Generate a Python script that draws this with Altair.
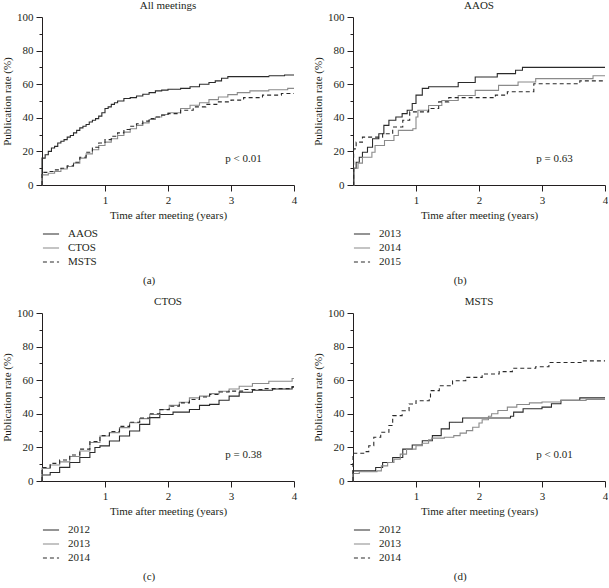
import altair as alt
import pandas as pd

# ---------------- data ----------------
# Panel (a) All meetings
a_names = ["AAOS", "CTOS", "MSTS"]
a_aaos_t = [0, 0, 0.05, 0.1, 0.15, 0.2, 0.25, 0.3, 0.35, 0.4, 0.45, 0.5, 0.55, 0.6, 0.65, 0.7, 0.75, 0.8, 0.85, 0.9, 0.95, 1.0, 1.05, 1.1, 1.15, 1.2, 1.3, 1.4, 1.5, 1.6, 1.7, 1.8, 1.9, 2.0, 2.2, 2.35, 2.5, 2.65, 2.75, 2.85, 2.95, 3.6, 3.85, 4.0]
a_aaos_v = [0, 16, 18, 20, 22, 23, 25, 26, 27, 28.5, 29.5, 31, 32.5, 34, 35, 36, 37.5, 38.5, 39.5, 41, 43, 45.5, 46.5, 48, 49, 50, 51.5, 52, 53, 54, 55, 56, 56.5, 57, 57.5, 58.5, 60, 61, 62, 63.5, 64.5, 65, 65.5, 65.5]
a_ctos_t = [0, 0, 0.1, 0.2, 0.3, 0.4, 0.5, 0.6, 0.7, 0.8, 0.9, 1.0, 1.1, 1.2, 1.3, 1.4, 1.5, 1.6, 1.7, 1.8, 1.9, 2.0, 2.2, 2.35, 2.5, 2.65, 2.8, 2.95, 3.1, 3.3, 3.6, 3.9, 4.0]
a_ctos_v = [0, 6, 7, 8, 9.5, 11, 13, 16, 18.5, 21, 23.5, 25.5, 27.5, 29.5, 31.5, 33.5, 35.5, 37, 39, 40.5, 42, 43, 45.5, 47.5, 49, 50.8, 52.4, 53.8, 55, 56, 56.7, 57.5, 57.5]
a_msts_t = [0, 0, 0.1, 0.2, 0.3, 0.4, 0.5, 0.6, 0.7, 0.8, 0.9, 1.0, 1.1, 1.2, 1.3, 1.4, 1.5, 1.6, 1.7, 1.8, 1.9, 2.0, 2.2, 2.4, 2.6, 2.8, 3.0, 3.2, 3.5, 3.8, 4.0]
a_msts_v = [0, 7.5, 8, 9, 10, 11.5, 13.5, 16.5, 19.5, 22.5, 25, 27, 29, 31, 33, 35, 36.5, 38, 39.5, 40.5, 41.5, 42.5, 44.5, 46.5, 48, 49.5, 50.5, 52, 53.5, 54.5, 54.5]
a_p = "p < 0.01"

# Panel (b) AAOS
b_names = ["2013", "2014", "2015"]
b_2013_t = [0, 0.01, 0.05, 0.1, 0.15, 0.23, 0.31, 0.41, 0.49, 0.57, 0.68, 0.78, 0.86, 0.94, 1.0, 1.1, 1.2, 1.67, 1.94, 2.29, 2.58, 2.69, 4.0]
b_2013_v = [0, 10, 13.5, 16.5, 19.5, 22.5, 27.5, 30.5, 35.5, 38.5, 40.5, 42.5, 44.5, 48.5, 53.5, 57.5, 58.5, 61, 64.3, 66.3, 68.3, 70, 70]
b_2014_t = [0, 0.02, 0.08, 0.15, 0.3, 0.35, 0.5, 0.65, 0.72, 0.95, 1.0, 1.03, 1.2, 1.41, 1.67, 1.94, 2.31, 2.62, 2.9, 3.81, 4.0]
b_2014_v = [0, 10, 13, 16.5, 19.5, 23.5, 26.5, 29.5, 32.5, 33.5, 40.5, 44.5, 47.3, 50.3, 53.3, 56.3, 59.3, 61.3, 63.3, 65, 65]
b_2015_t = [0, 0.01, 0.05, 0.15, 0.47, 0.63, 0.79, 0.9, 1.2, 1.36, 1.52, 2.26, 2.45, 2.87, 3.6, 4.0]
b_2015_v = [0, 21.5, 25.5, 28.5, 30.5, 34.5, 38.5, 43.5, 45.5, 49.5, 52, 53.5, 55.5, 60.3, 62, 62]
b_p = "p = 0.63"

# Panel (c) CTOS
c_names = ["2012", "2013", "2014"]
c_2012_t = [0, 0, 0.13, 0.28, 0.44, 0.6, 0.76, 0.84, 0.92, 1.07, 1.23, 1.39, 1.55, 1.71, 1.87, 2.08, 2.34, 2.5, 2.66, 2.81, 2.97, 3.13, 3.34, 3.66, 3.97, 4.0]
c_2012_v = [0, 3.6, 5.1, 8.1, 11, 14, 17, 19.9, 20.9, 23.8, 26.8, 29.8, 33.7, 37.7, 39.6, 41, 42.6, 45, 45.6, 48.1, 50.5, 52.8, 54, 54.8, 56, 56]
c_2013_t = [0, 0, 0.13, 0.28, 0.44, 0.6, 0.76, 0.92, 1.07, 1.23, 1.39, 1.55, 1.71, 1.87, 2.02, 2.18, 2.34, 2.5, 2.66, 2.81, 2.97, 3.13, 3.34, 3.6, 3.97, 4.0]
c_2013_v = [0, 7.5, 9.5, 11.4, 14.6, 17.9, 22.9, 26.8, 28.8, 31.8, 34.7, 37.1, 39.6, 42.6, 45, 46.9, 49.5, 50.5, 52, 53.4, 54.8, 56.4, 58, 59.4, 61, 61]
c_2014_t = [0, 0, 0.13, 0.28, 0.44, 0.6, 0.76, 0.92, 1.07, 1.23, 1.39, 1.55, 1.71, 1.87, 2.02, 2.18, 2.34, 2.5, 2.66, 2.81, 2.97, 3.2, 3.5, 3.97, 4.0]
c_2014_v = [0, 8, 10.5, 12.5, 15.5, 19, 23.5, 27, 29.5, 32.5, 35, 37.5, 40, 42.5, 44.5, 46.5, 48.5, 50, 51.5, 53, 53.5, 54.5, 55, 56, 56]
c_p = "p = 0.38"

# Panel (d) MSTS
d_names = ["2012", "2013", "2014"]
d_2012_t = [0, 0, 0.36, 0.47, 0.63, 0.79, 0.94, 1.1, 1.26, 1.4, 1.53, 1.74, 2.5, 2.55, 2.7, 3.0, 3.15, 3.3, 3.6, 4.0]
d_2012_v = [0, 6, 8, 11, 14, 19, 21.4, 24, 27, 31, 35, 37.5, 38.5, 41, 43, 44, 46, 48, 49.5, 49.5]
d_2013_t = [0, 0, 0.1, 0.38, 0.45, 0.55, 0.65, 0.75, 0.85, 1.0, 1.1, 1.2, 1.25, 1.45, 1.6, 1.7, 1.8, 1.9, 2.0, 2.05, 2.15, 2.2, 2.3, 2.45, 2.6, 2.8, 3.0, 3.3, 3.7, 4.0]
d_2013_v = [0, 4.5, 5.5, 6, 9, 11, 13, 16, 19, 21, 22.5, 24.5, 25.5, 26, 27, 28.5, 30, 32, 34.5, 36.5, 38.5, 40, 42, 44, 45.5, 46.5, 47, 48, 48.5, 48.5]
d_2014_t = [0, 0, 0.17, 0.25, 0.33, 0.44, 0.57, 0.63, 0.78, 0.89, 1.0, 1.21, 1.23, 1.37, 1.58, 1.79, 2.05, 2.32, 2.53, 2.9, 3.11, 3.63, 4.0]
d_2014_v = [0, 16.5, 17.5, 21, 26, 29, 33, 38.9, 41.8, 45.8, 47.8, 48.8, 53.8, 56.7, 59.7, 61.7, 63.7, 65.1, 67.1, 68, 70.5, 71.5, 71.5]
d_p = "p < 0.01"

# ---------------- style ----------------
FONT = "Liberation Serif"
INK = "#231f20"
DARK = "#2a2a2a"
GRAY = "#8a8a8a"
W, H = 252, 168


def make_df(names, ts, vs):
    rows = []
    for n, t, v in zip(names, ts, vs):
        for i, (a, b) in enumerate(zip(t, v)):
            rows.append({"series": n, "t": a, "v": b, "order": i})
    return pd.DataFrame(rows)


def panel(title, letter, names, ts, vs, ptext):
    df = make_df(names, ts, vs)
    x = alt.X("t:Q", scale=alt.Scale(domain=[0, 4], nice=False),
              axis=alt.Axis(values=[1, 2, 3, 4], title="Time after meeting (years)",
                            titleFontWeight="normal"))
    y = alt.Y("v:Q", scale=alt.Scale(domain=[0, 100], nice=False),
              axis=alt.Axis(values=list(range(0, 101, 10)),
                            labelExpr="datum.value % 20 === 0 ? datum.label : ''",
                            tickSize={"condition": {"test": "datum.value % 20 === 0", "value": 6}, "value": 3},
                            title="Publication rate (%)", titleFontWeight="normal"))
    leg = alt.Legend(title=None, orient="bottom", direction="vertical",
                     symbolType="stroke", symbolSize=260, symbolStrokeWidth=1.2,
                     labelFont=FONT, labelFontSize=11, labelColor=INK,
                     labelOffset=8, rowPadding=-7, offset=5, padding=0)
    lines = alt.Chart(df).mark_line(interpolate="step-after", strokeWidth=1.1).encode(
        x=x, y=y, order="order:Q",
        color=alt.Color("series:N", scale=alt.Scale(domain=names, range=[DARK, GRAY, DARK]), legend=leg, sort=names),
        strokeDash=alt.StrokeDash("series:N", scale=alt.Scale(domain=names, range=[[1, 0], [1, 0], [4, 3]]), legend=leg, sort=names),
    )
    pdf = pd.DataFrame({"t": [3.2], "v": [15.5], "label": [ptext]})
    ptxt = alt.Chart(pdf).mark_text(font=FONT, fontSize=11, color=INK).encode(x=x, y=y, text="label:N")
    layer = alt.layer(lines, ptxt).properties(
        width=W, height=H,
        title=alt.TitleParams(title, font=FONT, fontSize=11, fontWeight="normal", color=INK, offset=0),
    )
    wrapped = alt.vconcat(layer, title=alt.TitleParams(letter, orient="bottom", anchor="middle", font=FONT,
                                                        fontSize=11, fontWeight="normal", color=INK, offset=8))
    return wrapped.resolve_scale(color="independent", strokeDash="independent")


pa = panel("All meetings", "(a)", a_names, [a_aaos_t, a_ctos_t, a_msts_t], [a_aaos_v, a_ctos_v, a_msts_v], a_p)
pb = panel("AAOS", "(b)", b_names, [b_2013_t, b_2014_t, b_2015_t], [b_2013_v, b_2014_v, b_2015_v], b_p)
pc = panel("CTOS", "(c)", c_names, [c_2012_t, c_2013_t, c_2014_t], [c_2012_v, c_2013_v, c_2014_v], c_p)
pd_ = panel("MSTS", "(d)", d_names, [d_2012_t, d_2013_t, d_2014_t], [d_2012_v, d_2013_v, d_2014_v], d_p)

row1 = alt.hconcat(pa, pb, spacing=15).resolve_scale(color="independent", strokeDash="independent")
row2 = alt.hconcat(pc, pd_, spacing=15).resolve_scale(color="independent", strokeDash="independent")
chart = alt.vconcat(row1, row2, spacing=10).resolve_scale(color="independent", strokeDash="independent")

chart = chart.properties(
    padding={"left": 1, "top": 0, "right": 0, "bottom": 0},
    background="white",
).configure_view(stroke=None).configure_axis(
    grid=False,
    domainColor=INK, tickColor=INK, labelColor=INK, titleColor=INK,
    labelFont=FONT, titleFont=FONT, labelFontSize=11, titleFontSize=11,
    titleFontWeight="normal", domainWidth=1, tickWidth=1,
    labelPadding=3, titlePadding=4,
).configure_axisX(tickSize=6, labelFlush=False).configure_title(anchor="middle")

chart.save("out.html", embed_options={"renderer": "svg", "actions": False})
